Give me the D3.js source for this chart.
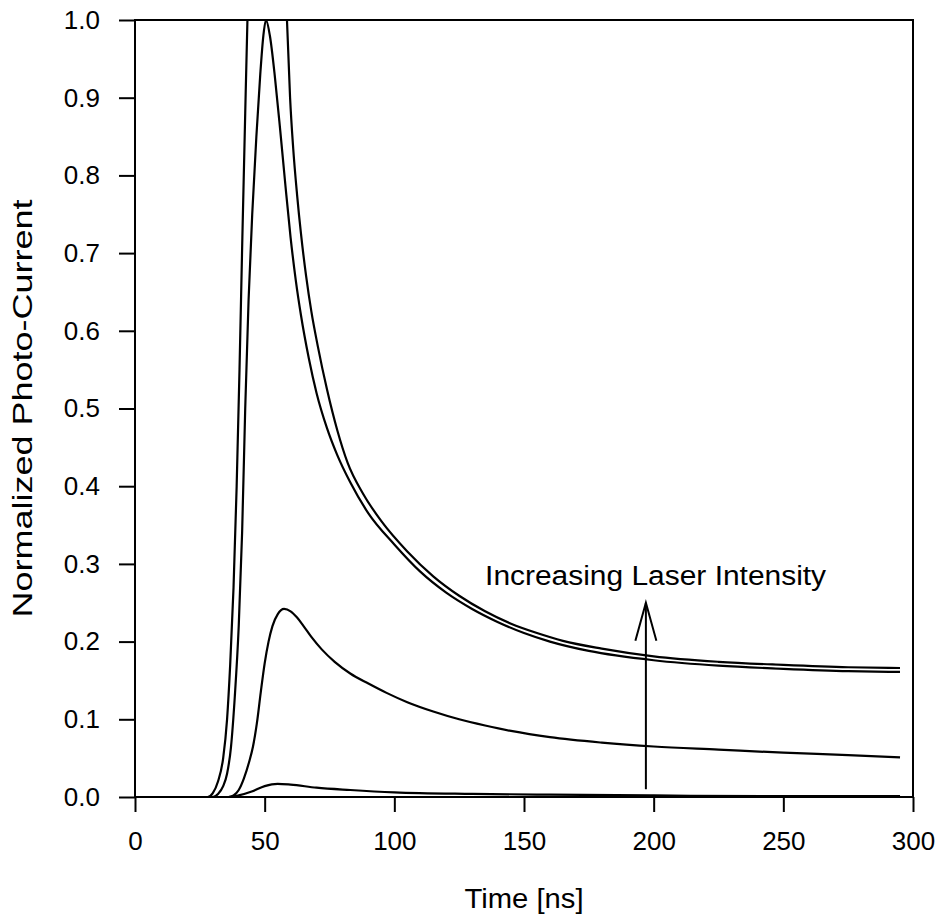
<!DOCTYPE html>
<html>
<head>
<meta charset="utf-8">
<script src="https://cdn.jsdelivr.net/npm/d3@7"></script>
<style>
  body { margin: 0; background: #fff; }
  svg { display: block; }
  text { font-family: "Liberation Sans", Arial, Helvetica, sans-serif; fill: #000; }
</style>
</head>
<body>
<svg width="947" height="919"></svg>
<script>
const width = 947;
const height = 919;

// time axis [ns] and the four photo-current traces (lowest to highest intensity)
const xTicks = [0, 50, 100, 150, 200, 250, 300];
const yTicks = [0, 0.1, 0.2, 0.3, 0.4, 0.5, 0.6, 0.7, 0.8, 0.9, 1.0];

const traceB = [
  [0, 0], [36, 0], [40, 0.002], [45, 0.007], [50, 0.014], [55, 0.017], [60, 0.016],
  [70, 0.012], [83, 0.009], [100, 0.006], [130, 0.004], [160, 0.003], [200, 0.002],
  [250, 0.001], [295, 0.001]
];

const traceC = [
  [0, 0], [36, 0], [38, 0.002], [40, 0.009], [42, 0.024], [44, 0.045], [45.5, 0.065],
  [47, 0.095], [48.5, 0.135], [50, 0.172], [51.5, 0.2], [53, 0.22], [55, 0.235],
  [57.5, 0.242], [60, 0.239], [62.5, 0.231], [65, 0.22], [68, 0.206], [72, 0.19],
  [77, 0.174], [83, 0.159], [90, 0.146], [97, 0.134], [105, 0.122], [115, 0.11],
  [125, 0.1], [135, 0.092], [145, 0.085], [160, 0.077], [180, 0.07], [200, 0.065],
  [225, 0.061], [250, 0.057], [275, 0.054], [295, 0.051]
];

const traceD = [
  [0, 0], [30, 0], [32, 0.004], [34, 0.014], [35.5, 0.03], [37, 0.064], [38.5, 0.13],
  [40, 0.22], [41.3, 0.34], [42.5, 0.5], [43.8, 0.64], [45.2, 0.75], [46.8, 0.85],
  [48.3, 0.93], [49.5, 0.98], [50.5, 1.0], [52, 0.98], [54, 0.925], [56, 0.858],
  [58, 0.787], [60, 0.72], [62, 0.665], [64, 0.62], [67, 0.565], [70, 0.52],
  [74, 0.475], [78, 0.44], [83, 0.405], [90, 0.365], [100, 0.325], [110, 0.29],
  [120, 0.263], [130, 0.242], [140, 0.225], [150, 0.211], [160, 0.2], [175, 0.188],
  [200, 0.176], [225, 0.169], [250, 0.165], [275, 0.162], [295, 0.161]
];

// this one saturates above the top of the frame
const traceA = [
  [0, 0], [28, 0], [30, 0.005], [32, 0.02], [34, 0.05], [35.5, 0.1], [36.7, 0.17],
  [38, 0.27], [39.2, 0.4], [40.3, 0.55], [41.4, 0.72], [42.5, 0.88], [43.5, 1.02],
  [45, 1.2], [48, 1.38], [51, 1.45], [54, 1.4], [56.5, 1.25], [58.6, 1.0],
  [59.8, 0.9], [61, 0.835], [62.5, 0.775], [64, 0.725], [66, 0.67], [68, 0.625],
  [70.5, 0.58], [74, 0.525], [78, 0.472], [82, 0.43], [88, 0.39], [95, 0.355],
  [105, 0.316], [115, 0.284], [125, 0.259], [135, 0.239], [145, 0.223], [155, 0.211],
  [165, 0.201], [180, 0.191], [200, 0.181], [225, 0.174], [250, 0.17], [275, 0.167],
  [295, 0.166]
];

const traces = [traceB, traceC, traceD, traceA];

const arrowTime = 197;
const arrowFrom = 0.01;
const arrowTo = 0.25;
const noteText = "Increasing Laser Intensity";
const noteAt = [135, 0.273];

const margin = { top: 20, right: 34, bottom: 122, left: 135 };

const svg = d3.select("svg");

const x = d3.scaleLinear()
  .domain([0, 300])
  .range([margin.left, width - margin.right]);

const y = d3.scaleLinear()
  .domain([0, 1])
  .range([height - margin.bottom, margin.top]);

svg.append("defs")
  .append("clipPath")
  .attr("id", "plot-clip")
  .append("rect")
  .attr("x", x(0))
  .attr("y", y(1))
  .attr("width", x(300) - x(0))
  .attr("height", y(0) - y(1));

// axes
const xAxis = svg.append("g")
  .attr("transform", `translate(0,${y(0)})`)
  .call(d3.axisBottom(x).tickValues(xTicks).tickSize(15).tickPadding(20).tickFormat(d3.format("d")));

const yAxis = svg.append("g")
  .attr("transform", `translate(${x(0)},0)`)
  .call(d3.axisLeft(y).tickValues(yTicks).tickSize(16).tickPadding(19).tickFormat(d3.format(".1f")));

[xAxis, yAxis].forEach(g => {
  g.select(".domain").remove();
  g.selectAll(".tick line").attr("stroke", "#000").attr("stroke-width", 2);
  g.selectAll(".tick text").style("font-size", "26px").attr("fill", "#000");
});

// frame
svg.append("rect")
  .attr("x", x(0))
  .attr("y", y(1))
  .attr("width", x(300) - x(0))
  .attr("height", y(0) - y(1))
  .attr("fill", "none")
  .attr("stroke", "#000")
  .attr("stroke-width", 2);

// traces
const line = d3.line()
  .x(d => x(d[0]))
  .y(d => y(d[1]))
  .curve(d3.curveMonotoneX);

svg.append("g")
  .attr("clip-path", "url(#plot-clip)")
  .selectAll("path")
  .data(traces)
  .join("path")
  .attr("d", line)
  .attr("fill", "none")
  .attr("stroke", "#000")
  .attr("stroke-width", 2.2)
  .attr("stroke-linejoin", "round");

// arrow annotation
const ax = x(arrowTime);
const tipY = y(arrowTo);
svg.append("line")
  .attr("x1", ax).attr("x2", ax)
  .attr("y1", y(arrowFrom)).attr("y2", tipY)
  .attr("stroke", "#000")
  .attr("stroke-width", 2);

svg.append("path")
  .attr("d", `M${ax - 10.5},${tipY + 38}L${ax},${tipY}L${ax + 10.5},${tipY + 38}`)
  .attr("fill", "none")
  .attr("stroke", "#000")
  .attr("stroke-width", 2);

svg.append("text")
  .attr("x", x(noteAt[0]))
  .attr("y", y(noteAt[1]))
  .attr("textLength", 341)
  .attr("lengthAdjust", "spacingAndGlyphs")
  .style("font-size", "27px")
  .text(noteText);

// axis titles
svg.append("text")
  .attr("x", (x(0) + x(300)) / 2)
  .attr("y", 908)
  .attr("text-anchor", "middle")
  .attr("textLength", 119)
  .attr("lengthAdjust", "spacingAndGlyphs")
  .style("font-size", "28px")
  .text("Time [ns]");

svg.append("text")
  .attr("transform", `translate(32,${(y(0) + y(1)) / 2}) rotate(-90)`)
  .attr("text-anchor", "middle")
  .attr("textLength", 418)
  .attr("lengthAdjust", "spacingAndGlyphs")
  .style("font-size", "28px")
  .text("Normalized Photo-Current");
</script>
</body>
</html>
